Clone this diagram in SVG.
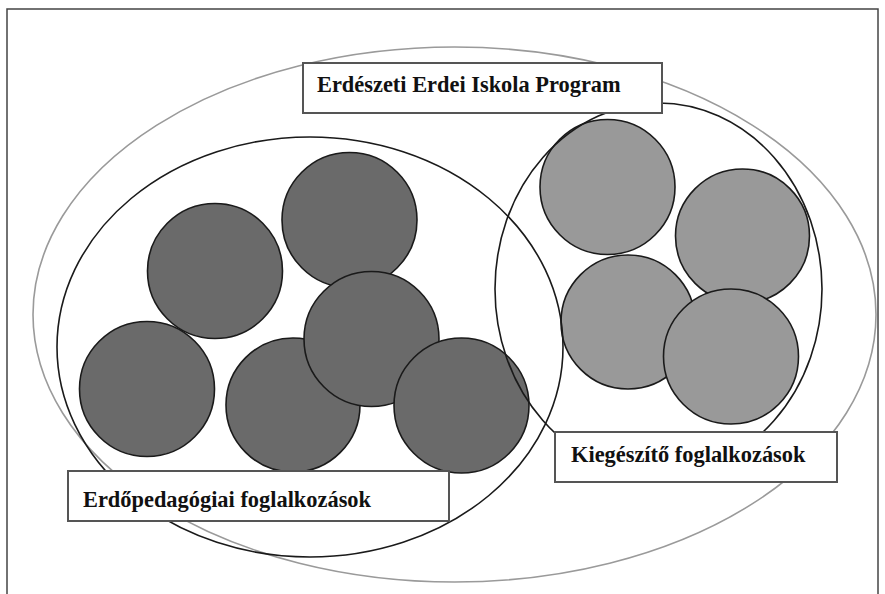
<svg xmlns="http://www.w3.org/2000/svg" width="885" height="594" viewBox="0 0 885 594">
<style>
.frame{fill:none;stroke:#444;stroke-width:1.5}
.outer{fill:none;stroke:#9a9a9a;stroke-width:1.6}
.grp{fill:none;stroke:#1a1a1a;stroke-width:1.6}
.dark{fill:#6a6a6a;stroke:#1a1a1a;stroke-width:1.6}
.light{fill:#999;stroke:#1a1a1a;stroke-width:1.6}
.box{fill:#fff;stroke:#555;stroke-width:2}
.lbl{font-family:"Liberation Serif","Times New Roman",serif;font-weight:bold;font-size:22.4px;fill:#111}
</style>
<rect width="885" height="594" fill="#fff"/>
<rect class="frame" x="7" y="9" width="871" height="620"/>
<g id="program-ellipse"><ellipse class="outer" cx="454.5" cy="314.5" rx="421.5" ry="267.5"/></g>
<g id="c1"><circle class="dark" cx="215" cy="271" r="67.5"/></g>
<g id="c3"><circle class="dark" cx="147" cy="389" r="67.5"/></g>
<g id="c2"><circle class="dark" cx="349.5" cy="220" r="67.5"/></g>
<g id="c4"><circle class="dark" cx="293" cy="405" r="67"/></g>
<g id="c5"><circle class="dark" cx="371.5" cy="339" r="67.5"/></g>
<g id="c6"><circle class="dark" cx="461.5" cy="405.5" r="67.5"/></g>
<g id="c7"><circle class="light" cx="607.5" cy="187" r="67.5"/></g>
<g id="c8"><circle class="light" cx="742.5" cy="236" r="67"/></g>
<g id="c9"><circle class="light" cx="628" cy="322" r="67"/></g>
<g id="c10"><circle class="light" cx="731" cy="356.5" r="67.5"/></g>
<g id="erdo-ellipse"><ellipse class="grp" cx="310" cy="347" rx="253" ry="210"/></g>
<g id="kieg-ellipse"><ellipse class="grp" cx="658.5" cy="289" rx="163.5" ry="186"/></g>
<g id="title"><rect class="box" x="303" y="63" width="359" height="50"/><text class="lbl" x="317" y="92">Erdészeti Erdei Iskola Program</text></g>
<g id="erdo-label"><rect class="box" x="68" y="471" width="381" height="50"/><text class="lbl" x="83" y="507">Erdőpedagógiai foglalkozások</text></g>
<g id="kieg-label"><rect class="box" x="555" y="432" width="282" height="50"/><text class="lbl" x="571" y="462">Kiegészítő foglalkozások</text></g>
</svg>
